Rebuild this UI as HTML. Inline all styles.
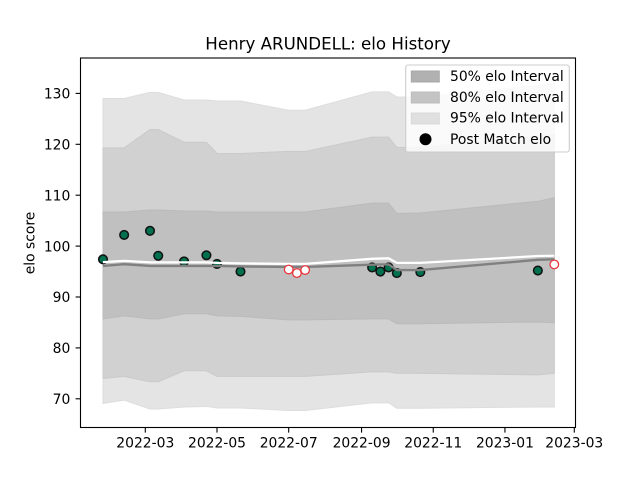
<!DOCTYPE html>
<html>
<head>
<meta charset="utf-8">
<title>Henry ARUNDELL: elo History</title>
<style>
html,body{margin:0;padding:0;background:#fff;width:640px;height:480px;overflow:hidden}
svg{display:block}
text{font-family:"DejaVu Sans","Liberation Sans",sans-serif;fill:#000}
</style>
</head>
<body>
<svg id="chart" width="640" height="480" viewBox="0 0 640 480" xmlns="http://www.w3.org/2000/svg">
  <rect x="0" y="0" width="640" height="480" fill="#fff"/>
  <g id="bands"></g>
  <g id="points"></g>
  <g id="lines"></g>
  <g id="upcoming"></g>
  <rect x="80.5" y="58" width="495" height="369.5" fill="none" stroke="#000" stroke-width="1.1"/>
  <g id="xaxis"></g>
  <g id="yaxis"></g>
  <text x="328" y="49.3" text-anchor="middle" font-size="16.67">Henry ARUNDELL: elo History</text>
  <text transform="translate(34.3,243) rotate(-90)" text-anchor="middle" font-size="13.89">elo score</text>
  <g>
    <rect x="405.7" y="65" width="163.6" height="87" rx="2.5" fill="#fff" fill-opacity="0.8" stroke="#ccc" stroke-width="1.1"/>
    <rect x="411.3" y="71" width="28" height="11" fill="#b1b1b1" stroke="#a8a8a8"/>
    <text x="450" y="81" font-size="13.89">50% elo Interval</text>
    <rect x="411.3" y="92" width="28" height="11" fill="#c4c4c4" stroke="#bcbcbc"/>
    <text x="450" y="102" font-size="13.89">80% elo Interval</text>
    <rect x="411.3" y="113" width="28" height="11" fill="#e0e0e0" stroke="#d9d9d9"/>
    <text x="450" y="122.5" font-size="13.89">95% elo Interval</text>
    <circle cx="425.5" cy="139.3" r="6" fill="#000"/>
    <text x="450" y="144" font-size="13.89">Post Match elo</text>
  </g>
</svg>
<script>
const dates = ["2022-01-24","2022-02-11","2022-03-05","2022-03-12","2022-04-03","2022-04-22","2022-05-01","2022-05-21","2022-07-01","2022-07-08","2022-07-15","2022-09-10","2022-09-17","2022-09-24","2022-10-01","2022-10-21","2023-01-29","2023-02-12"];
const upper95 = [129,129,130.2,130.2,128.7,128.7,128.5,128.5,126.7,126.7,126.7,130.3,130.3,130.3,129.3,129.3,131.5,131.9];
const upper80 = [119.3,119.3,122.9,122.9,120.4,120.4,118.2,118.2,118.6,118.6,118.6,121.4,121.4,121.4,119.4,119.4,121.6,122];
const upper50 = [106.7,106.7,107.1,107.1,106.9,106.9,106.7,106.7,106.7,106.7,106.7,108.45,108.45,108.45,106.4,106.5,108.8,109.5];
const lower50 = [85.7,86.3,85.7,85.7,86.7,86.7,86.3,86.2,85.5,85.5,85.5,85.7,85.7,85.7,84.75,84.75,85.1,84.95];
const lower80 = [74,74.4,73.35,73.35,75.5,75.5,74.4,74.4,74.4,74.4,74.4,75.3,75.3,75.3,75,75,74.7,75];
const lower95 = [69.1,69.75,68,68,68.4,68.5,68.2,68.2,67.7,67.7,67.7,69.2,69.2,69.2,68.15,68.15,68.4,68.4];
const medianElo = [96.1,96.45,96.1,96.1,96.1,96.1,96.1,96,95.9,95.9,95.9,96.35,96.4,96.4,95.3,95.3,97.3,97.4];
const meanElo = [96.85,97.1,96.8,96.8,96.8,96.8,96.7,96.6,96.5,96.5,96.5,97.5,97.55,97.6,96.7,96.7,98.05,98.1];
const matchDates = ["2022-01-24","2022-02-11","2022-03-05","2022-03-12","2022-04-03","2022-04-22","2022-05-01","2022-05-21","2022-09-10","2022-09-17","2022-09-24","2022-10-01","2022-10-21","2023-01-29"];
const matchElo = [97.4,102.2,103,98.1,97,98.2,96.5,95,95.8,95,95.8,94.7,94.9,95.2];
const upcomingDates = ["2022-07-01","2022-07-08","2022-07-15","2023-02-12"];
const upcomingElo = [95.4,94.7,95.3,96.4];
const xTickLabels = ["2022-03","2022-05","2022-07","2022-09","2022-11","2023-01","2023-03"];
const yTickLabels = [70,80,90,100,110,120,130];

const NS = "http://www.w3.org/2000/svg";
const DAY = 86400000;
const X_ORIGIN = Date.UTC(2022,2,1);
function xScale(d){
  const p = d.split("-").map(Number);
  const t = Date.UTC(p[0],p[1]-1,p[2] || 1);
  return 145.3 + (t - X_ORIGIN) / DAY * 1.1753;
}
function yScale(v){ return 246.1 - (v - 100) * 5.09; }
function make(tag, parent){
  const el = document.createElementNS(NS, tag);
  parent.appendChild(el);
  return el;
}
function pathFor(ds, vs){
  return ds.map((d,i)=>(i?"L":"M")+xScale(d).toFixed(2)+" "+yScale(vs[i]).toFixed(2)).join(" ");
}
function bandPath(ds, hi, lo){
  const rev = ds.map((d,i)=>"L"+xScale(d).toFixed(2)+" "+yScale(lo[i]).toFixed(2)).reverse().join(" ");
  return pathFor(ds, hi) + " " + rev + " Z";
}

const bandsG = document.getElementById("bands");
const band95 = make("path", bandsG);


band95.setAttribute("d", bandPath(dates, upper95, lower95));
band95.setAttribute("fill", "#e4e4e4");
band95.setAttribute("stroke", "#dddddd");
const band80 = make("path", bandsG);


band80.setAttribute("d", bandPath(dates, upper80, lower80));
band80.setAttribute("fill", "#d1d1d1");
band80.setAttribute("stroke", "#cacaca");
const band50 = make("path", bandsG);


band50.setAttribute("d", bandPath(dates, upper50, lower50));
band50.setAttribute("fill", "#c0c0c0");
band50.setAttribute("stroke", "#bababa");

const pointsG = document.getElementById("points");
matchDates.forEach((d,i)=>{
  const c = make("circle", pointsG);
  
  
  c.setAttribute("cx", xScale(d));
  c.setAttribute("cy", yScale(matchElo[i]));
  c.setAttribute("r", 4.3);
  c.setAttribute("fill", "#00704f");
  c.setAttribute("stroke", "#111");
  c.setAttribute("stroke-width", 1.5);
});

const linesG = document.getElementById("lines");
const medianLine = make("path", linesG);


medianLine.setAttribute("d", pathFor(dates, medianElo));
medianLine.setAttribute("fill", "none");
medianLine.setAttribute("stroke", "#808080");
medianLine.setAttribute("stroke-width", 2.4);
const meanLine = make("path", linesG);


meanLine.setAttribute("d", pathFor(dates, meanElo));
meanLine.setAttribute("fill", "none");
meanLine.setAttribute("stroke", "#fff");
meanLine.setAttribute("stroke-width", 2.3);

const upcomingG = document.getElementById("upcoming");
upcomingDates.forEach((d,i)=>{
  const c = make("circle", upcomingG);
  
  
  c.setAttribute("cx", xScale(d));
  c.setAttribute("cy", yScale(upcomingElo[i]));
  c.setAttribute("r", 4.3);
  c.setAttribute("fill", "#fff");
  c.setAttribute("stroke", "#e8383d");
  c.setAttribute("stroke-width", 1.3);
});

const xAxisG = document.getElementById("xaxis");
xTickLabels.forEach((lab)=>{
  const x = xScale(lab);
  const t = make("line", xAxisG);
  
  
  t.setAttribute("x1", x);
  t.setAttribute("x2", x);
  t.setAttribute("y1", 427.5);
  t.setAttribute("y2", 432.6);
  t.setAttribute("stroke", "#000");
  t.setAttribute("stroke-width", 1.1);
  const l = make("text", xAxisG);
  
  
  l.setAttribute("x", x);
  l.setAttribute("y", 447.6);
  l.setAttribute("text-anchor", "middle");
  l.setAttribute("font-size", "13.89");
  l.textContent = lab;
});

const yAxisG = document.getElementById("yaxis");
yTickLabels.forEach((v)=>{
  const y = yScale(v);
  const t = make("line", yAxisG);
  
  
  t.setAttribute("x1", 75.6);
  t.setAttribute("x2", 80.5);
  t.setAttribute("y1", y);
  t.setAttribute("y2", y);
  t.setAttribute("stroke", "#000");
  t.setAttribute("stroke-width", 1.1);
  const l = make("text", yAxisG);
  
  
  l.setAttribute("x", 70.3);
  l.setAttribute("y", y + 5.2);
  l.setAttribute("text-anchor", "end");
  l.setAttribute("font-size", "13.89");
  l.textContent = v;
});
</script>
</body>
</html>
